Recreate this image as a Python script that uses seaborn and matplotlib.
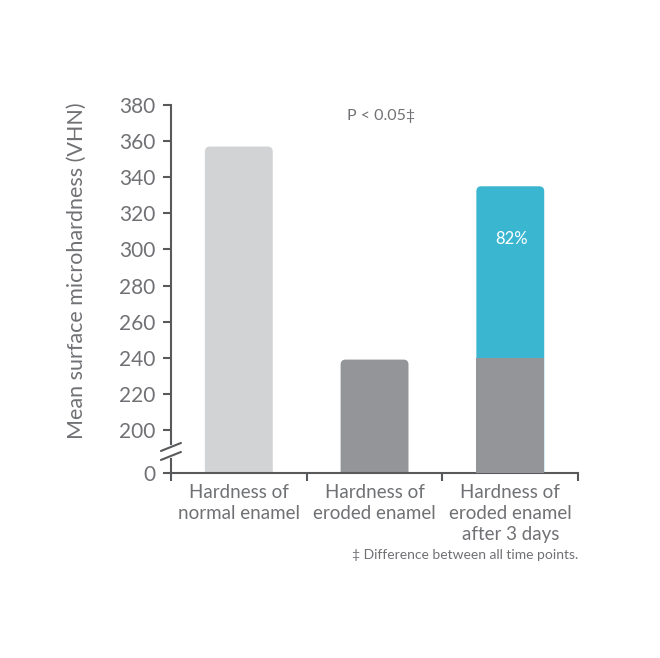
import numpy as np
import pandas as pd
import matplotlib
matplotlib.use("Agg")
import matplotlib.pyplot as plt
import seaborn as sns
from matplotlib.patches import FancyBboxPatch

categories = ["Hardness of\nnormal enamel", "Hardness of\neroded enamel", "Hardness of\neroded enamel\nafter 3 days"]
base_values = [357, 239, 240]
total_values = [357, 239, 335]
base_colors = ["#d1d3d4", "#939598", "#939598"]
top_color = "#3bb6d1"
yticks = [0, 200, 220, 240, 260, 280, 300, 320, 340, 360, 380]
recovery_label = "82%"

sns.set_theme(style="white")
plt.rcParams['font.family'] = ['Lato', 'DejaVu Sans']
TXT = "#707174"
AX = "#58595b"
W = "normal"

BREAK = 200.0
LOWSPAN = 23.8

def fwd(y):
    y = np.asarray(y, dtype=float)
    return np.where(y < BREAK, y * LOWSPAN / BREAK, LOWSPAN + (y - BREAK))

def inv(v):
    v = np.asarray(v, dtype=float)
    return np.where(v < LOWSPAN, v * BREAK / LOWSPAN, BREAK + (v - LOWSPAN))

fig = plt.figure(figsize=(6.6, 6.58), dpi=100)
ax = fig.add_axes([0.259, 0.2812, 0.617, 0.5592])
ax.set_yscale('function', functions=(fwd, inv))

df = pd.DataFrame({"cat": categories, "total": total_values, "base": base_values})
sns.barplot(data=df, x="cat", y="total", hue="cat", palette=[base_colors[0], base_colors[1], top_color],
            width=0.5, ax=ax, legend=False, saturation=1)
n_total = len(ax.patches)
sns.barplot(data=df, x="cat", y="base", hue="cat", palette=base_colors,
            width=0.5, ax=ax, legend=False, saturation=1)

ax.set_ylim(0, 380)
ax.set_xlim(-0.5, 2.5)
fig.canvas.draw()

# round the top corners of each bar's top segment (pixel space)
rad = 5
patches = list(ax.patches)
total_patches = patches[:n_total]
base_patches = patches[n_total:]
for p in total_patches:
    x0, y0 = p.get_x(), p.get_y()
    x1, y1 = x0 + p.get_width(), y0 + p.get_height()
    (px0, py0) = ax.transData.transform((x0, y0))
    (px1, py1) = ax.transData.transform((x1, y1))
    fb = FancyBboxPatch((px0 + rad, py0 - 3 * rad), (px1 - px0) - 2 * rad, (py1 - py0) + 2 * rad,
                        boxstyle=f"round,pad={rad},rounding_size={rad}",
                        facecolor=p.get_facecolor(), edgecolor="none",
                        transform=None, zorder=2)
    fb.set_clip_box(ax.bbox)
    fb.set_clip_on(True)
    ax.add_artist(fb)
    p.set_visible(False)
for p, t in zip(base_patches, total_patches):
    if abs(p.get_height() - t.get_height()) < 1e-6:
        p.set_visible(False)
    else:
        p.set_edgecolor("none")
        p.set_zorder(3)

for s in ["top", "right"]:
    ax.spines[s].set_visible(False)
for s in ["left", "bottom"]:
    ax.spines[s].set_color(AX)
    ax.spines[s].set_linewidth(1.5)

ax.set_yticks(yticks)
ax.set_yticklabels([str(t) for t in yticks], fontsize=15, color=TXT, fontweight=W)
ax.tick_params(axis="y", direction="out", length=6, width=1.5, color=AX, left=True, pad=5)

ax.set_xticks([0, 1, 2])
ax.set_xticklabels(categories, fontsize=13.5, color=TXT, fontweight=W, linespacing=1.28)
ax.tick_params(axis="x", which="major", length=0, pad=8)
ax.set_xticks([-0.5, 0.5, 1.5, 2.5], minor=True)
ax.tick_params(axis="x", which="minor", direction="out", length=6, width=1.5, color=AX, bottom=True)
ax.set_xlabel("")
ax.set_ylabel("Mean surface microhardness (VHN)", fontsize=15.5, color=TXT, fontweight=W)
ax.yaxis.set_label_coords(-0.207, 0.549)

# axis break
fig.canvas.draw()
def yb_px(v):
    return ax.transData.transform((0, v))[1]
xpx = ax.transData.transform((-0.5, 0))[0]
inv_fig = fig.transFigure.inverted()
g0 = inv_fig.transform((xpx, yb_px(0) + 17))
g1 = inv_fig.transform((xpx, yb_px(0) + 26))
fig.add_artist(plt.Line2D([g0[0], g1[0]], [g0[1], g1[1]], color="white", lw=3))
for ypx in [yb_px(0) + 17, yb_px(0) + 26]:
    x0f, y0f = inv_fig.transform((xpx - 10, ypx - 4))
    x1f, y1f = inv_fig.transform((xpx + 10, ypx + 4))
    fig.add_artist(plt.Line2D([x0f, x1f], [y0f, y1f], color=AX, lw=1.5))

ax.text(1.05, 374, "P < 0.05\u2021", fontsize=11.5, color=TXT, fontweight=W, ha="center", va="center")
ax.text(2.01, 306, recovery_label, fontsize=12, color="white", ha="center", va="center")
fig.text(0.876, 0.157, "\u2021 Difference between all time points.", fontsize=10, color=TXT,
         fontweight=W, ha="right", va="center")

fig.savefig("out.png", dpi=100)
